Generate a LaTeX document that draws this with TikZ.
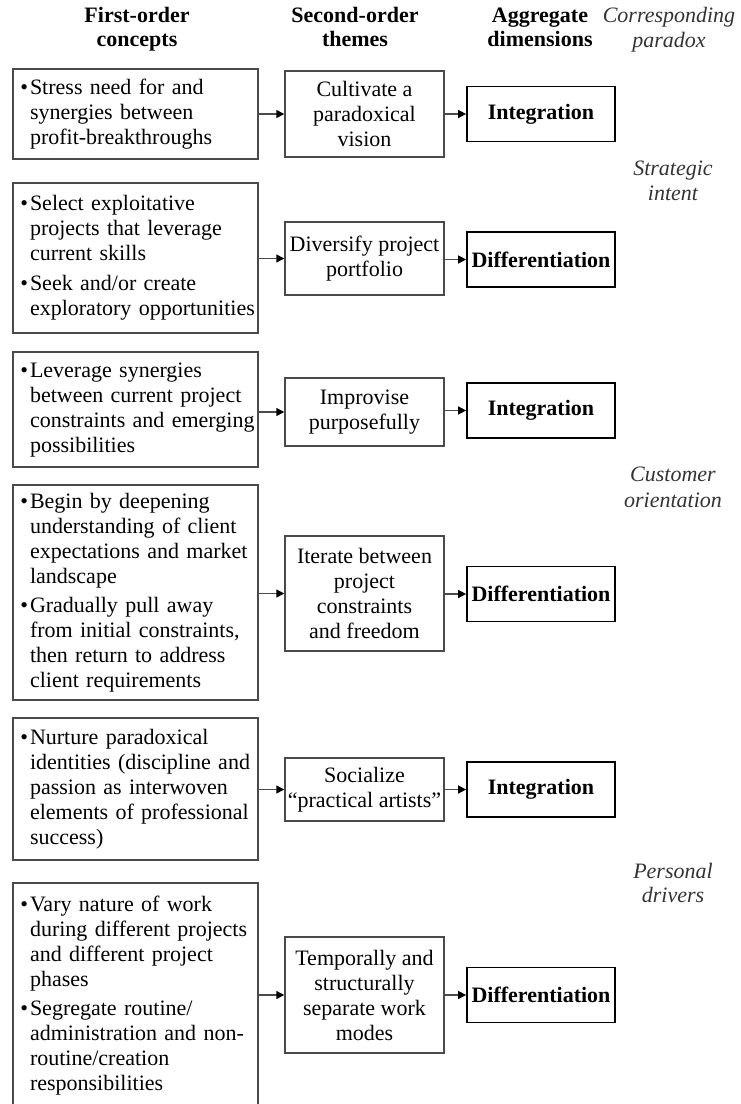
\documentclass[tikz,border=0pt]{standalone}
\usepackage{fontspec}
\setmainfont{Liberation Serif}
\usetikzlibrary{arrows.meta}
\definecolor{boxgray}{HTML}{4A4A4A}
\definecolor{sidegray}{HTML}{333333}
\newcommand{\bitem}[1]{\textbullet & #1}
\begin{document}
\begin{tikzpicture}[x=0.75pt,y=-0.75pt,
  txt/.style={font=\fontsize{16.5}{18.75}\selectfont},
  head/.style={font=\fontsize{16.5}{18}\selectfont\bfseries, anchor=base, inner sep=0pt},
  side/.style={font=\fontsize{16.5}{18.5}\selectfont\itshape, text=sidegray, anchor=base, inner sep=0pt},
  concept/.style={txt, draw=boxgray, line width=1.1pt, text width=172.75pt, inner xsep=5.5pt, inner ysep=0pt, align=left},
  theme/.style={txt, draw=boxgray, line width=1.1pt, minimum width=119.25pt, inner xsep=0pt, inner ysep=0pt, align=center},
  agg/.style={txt, draw=black, line width=1.3pt, minimum width=111pt, minimum height=41.25pt, inner sep=0pt, font=\fontsize{16.5}{18.75}\selectfont\bfseries},
  arr/.style={draw=boxgray, line width=1.1pt, -{Triangle[length=6pt,width=6pt,color=black]}}
]
\useasboundingbox (0,0) rectangle (741,1104);

% column headers
\node[head] (h1a) at (137,22) {First-order};
\node[head] (h1b) at (137,46) {concepts};
\node[head] (h2a) at (355,22) {Second-order};
\node[head] (h2b) at (355,46) {themes};
\node[head] (h3a) at (540,22) {Aggregate};
\node[head] (h3b) at (540,46) {dimensions};

% paradox labels
\node[side] (p0a) at (669,22) {Corresponding};
\node[side] (p0b) at (669,47) {paradox};
\node[side] (p1a) at (673,175) {Strategic};
\node[side] (p1b) at (673,200) {intent};
\node[side] (p2a) at (673,481) {Customer};
\node[side] (p2b) at (673,507) {orientation};
\node[side] (p3a) at (673,878) {Personal};
\node[side] (p3b) at (673,902) {drivers};

% row 1
\node[concept, minimum height=67.5pt] (c1) at (135.5,114) {\begin{tabular}{@{}l@{\hspace{1.5pt}}l@{}}
\bitem{Stress need for and}\\ & synergies between\\ & profit-breakthroughs\end{tabular}};
\node[theme, minimum height=64.5pt] (t1) at (364.5,114) {Cultivate a\\paradoxical\\vision};
\node[agg] (a1) at (541,114) {Integration};

% row 2
\node[concept, minimum height=112.5pt] (c2) at (135.5,258) {\begin{tabular}{@{}l@{\hspace{1.5pt}}l@{}}
\bitem{Select exploitative}\\ & projects that leverage\\ & current skills\\[4pt]
\bitem{Seek and/or create}\\ & exploratory opportunities\end{tabular}};
\node[theme, minimum height=54.75pt] (t2) at (364.5,258.5) {Diversify project\\portfolio};
\node[agg] (a2) at (541,259.5) {Differentiation};

% row 3
\node[concept, minimum height=86.25pt] (c3) at (135.5,409.5) {\begin{tabular}{@{}l@{\hspace{1.5pt}}l@{}}
\bitem{Leverage synergies}\\ & between current project\\ & constraints and emerging\\ & possibilities\end{tabular}};
\node[theme, minimum height=51pt] (t3) at (364.5,412) {Improvise\\purposefully};
\node[agg] (a3) at (541,410.5) {Integration};

% row 4
\node[concept, minimum height=161.25pt] (c4) at (135.5,592.5) {\begin{tabular}{@{}l@{\hspace{1.5pt}}l@{}}
\bitem{Begin by deepening}\\ & understanding of client\\ & expectations and market\\ & landscape\\[3pt]
\bitem{Gradually pull away}\\ & from initial constraints,\\ & then return to address\\ & client requirements\end{tabular}};
\node[theme, minimum height=86.25pt] (t4) at (364.5,593.5) {Iterate between\\project\\constraints\\and freedom};
\node[agg] (a4) at (541,594) {Differentiation};

% row 5
\node[concept, minimum height=106.5pt] (c5) at (135.5,789) {\begin{tabular}{@{}l@{\hspace{1.5pt}}l@{}}
\bitem{Nurture paradoxical}\\ & identities (discipline and\\ & passion as interwoven\\ & elements of professional\\ & success)\end{tabular}};
\node[theme, minimum height=47.25pt] (t5) at (364.5,789.5) {Socialize\\``practical artists''};
\node[agg] (a5) at (541,789.5) {Integration};

% row 6 (its box runs past the lower edge)
\node[concept, minimum height=168.75pt] (c6) at (135.5,995.5) {\begin{tabular}{@{}l@{\hspace{1.5pt}}l@{}}
\bitem{Vary nature of work}\\ & during different projects\\ & and different project\\ & phases\\[3pt]
\bitem{Segregate routine/}\\ & administration and non-\\ & routine/creation\\ & responsibilities\end{tabular}};
\node[theme, minimum height=87pt] (t6) at (364.5,995) {Temporally and\\structurally\\separate work\\modes};
\node[agg] (a6) at (541,995) {Differentiation};

% connectors
\foreach \i in {1,...,6}{
  \draw[arr] (c\i.east |- t\i.west) -- (t\i.west);
  \draw[arr] (t\i.east |- a\i.west) -- (a\i.west);
}
\end{tikzpicture}
\end{document}
